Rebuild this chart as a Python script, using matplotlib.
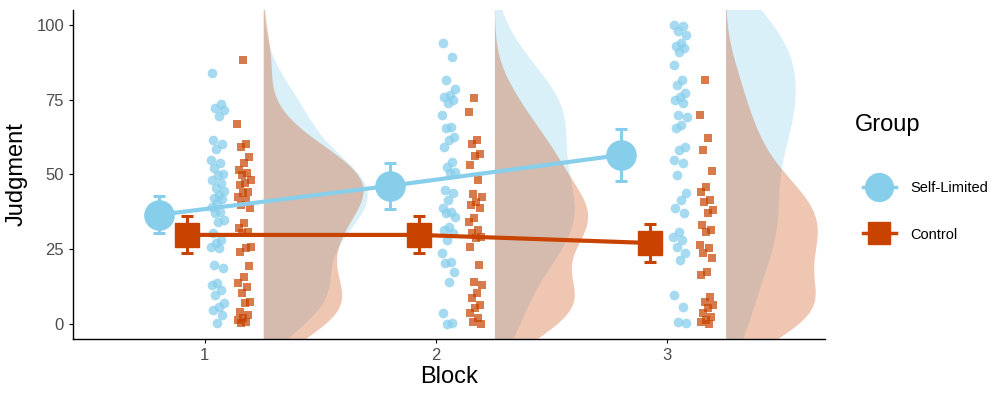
import numpy as np
import matplotlib.pyplot as plt
from matplotlib.lines import Line2D

plt.rcParams['font.family'] = ['Liberation Sans', 'DejaVu Sans']

blocks = [1, 2, 3]
groups = ['Self-Limited', 'Control']

# raw judgments, per block
self_limited = [
    [84.0, 73.6, 72.1, 71.6, 69.6, 61.5, 60.2, 58.5, 54.8, 53.7, 52.1, 50.2, 49.8, 48.2,
     47.3, 45.4, 44.6, 43.1, 42.0, 41.7, 40.4, 39.2, 37.6, 37.0, 34.8, 34.2, 30.3, 28.1,
     27.2, 25.9, 25.3, 19.7, 18.6, 13.6, 13.0, 11.4, 9.7, 6.9, 5.8, 4.7, 3.0, 0.2],
    [93.9, 89.4, 81.6, 78.5, 76.6, 75.8, 74.9, 73.8, 69.9, 66.0, 65.4, 62.6, 61.5, 59.3,
     54.3, 52.6, 50.9, 50.4, 44.8, 43.7, 41.5, 38.7, 37.6, 37.0, 35.9, 32.5, 31.4, 30.3,
     28.1, 23.6, 20.8, 20.3, 17.5, 14.1, 3.6, 0.2, 0.0],
    [100.0, 99.7, 97.8, 96.7, 93.9, 92.8, 92.2, 91.1, 86.6, 81.6, 79.9, 77.2, 76.0, 74.9,
     73.8, 69.9, 69.3, 66.6, 65.4, 59.3, 58.2, 54.8, 53.7, 49.8, 43.7, 41.5, 38.7, 37.0,
     30.9, 29.2, 28.1, 25.9, 23.6, 21.4, 9.7, 5.8, 0.8, 0.2],
]
control = [
    [88.1, 66.9, 60.2, 59.3, 56.0, 53.7, 51.5, 50.4, 49.8, 48.2, 47.3, 46.5, 44.2, 43.7,
     42.6, 41.5, 39.8, 38.7, 33.9, 32.0, 30.9, 30.3, 25.9, 25.3, 24.2, 19.5, 15.8, 13.6,
     12.5, 10.3, 7.5, 6.9, 4.1, 3.0, 1.9, 1.3, 0.8, 0.2],
    [75.5, 71.0, 61.5, 60.2, 56.9, 56.2, 53.2, 48.2, 43.5, 42.6, 40.9, 39.8, 38.7, 35.4,
     34.2, 31.4, 30.3, 29.2, 28.7, 25.9, 19.7, 14.1, 13.0, 10.3, 8.6, 6.4, 5.3, 3.6, 1.9,
     0.8, 0.0],
    [81.6, 69.9, 62.1, 58.2, 51.3, 45.9, 44.2, 41.5, 40.9, 38.1, 37.0, 33.1, 31.4, 30.9,
     26.4, 25.3, 23.6, 22.0, 17.5, 16.4, 9.1, 7.5, 6.4, 5.3, 3.6, 2.4, 1.3, 0.8, 0.0],
]

# group means with error bar limits
sl_mean = [36.5, 46.2, 56.5]
sl_low = [30.4, 38.5, 47.8]
sl_high = [42.8, 53.8, 65.2]
ct_mean = [29.8, 29.8, 27.1]
ct_low = [23.7, 23.7, 20.7]
ct_high = [36.0, 36.0, 33.4]

blue = '#87CEEB'
orange = '#C84300'


def kde(vals):
    v = np.asarray(vals)
    n = len(v)
    iqr = np.subtract(*np.percentile(v, [75, 25]))
    bw = 0.9 * min(v.std(ddof=1), iqr / 1.34) * n ** -0.2
    grid = np.linspace(v.min() - 3 * bw, v.max() + 3 * bw, 512)
    dens = np.exp(-0.5 * ((grid[:, None] - v[None, :]) / bw) ** 2).sum(axis=1)
    dens /= n * bw * np.sqrt(2 * np.pi)
    return grid, dens


def jitter(n, width, phase):
    return ((np.arange(n) * 0.618034 + phase) % 1 - 0.5) * 2 * width


fig = plt.figure(figsize=(9.95, 3.97), dpi=100)
ax = fig.add_axes([0.0734, 0.146, 0.756, 0.829])

dens_all = [[kde(d) for d in grp] for grp in (self_limited, control)]
gmax = max(dd.max() for grp in dens_all for _, dd in grp)

for gi, (grp, col) in enumerate(zip(dens_all, [blue, orange])):
    for b, (yy, dd) in zip(blocks, grp):
        x0 = b + 0.255
        ax.fill_betweenx(yy, x0, x0 + dd / gmax * 0.45, color=col, alpha=0.3,
                         linewidth=0, zorder=1)

for b, vals in zip(blocks, self_limited):
    ax.plot(b + 0.055 + jitter(len(vals), 0.03, 0.1), vals, 'o', color=blue,
            alpha=0.75, markersize=7, markeredgewidth=0, zorder=2)
for b, vals in zip(blocks, control):
    ax.plot(b + 0.17 + jitter(len(vals), 0.03, 0.4), vals, 's', color=orange,
            alpha=0.7, markersize=5.5, markeredgewidth=0, zorder=2)

xb = np.array(blocks, dtype=float)
ax.errorbar(xb - 0.2, sl_mean,
            yerr=[np.subtract(sl_mean, sl_low), np.subtract(sl_high, sl_mean)],
            color=blue, linewidth=3, elinewidth=2.2, capsize=4, capthick=2.2,
            marker='o', markersize=21, zorder=4)
ax.errorbar(xb - 0.075, ct_mean,
            yerr=[np.subtract(ct_mean, ct_low), np.subtract(ct_high, ct_mean)],
            color=orange, linewidth=3, elinewidth=2.2, capsize=4, capthick=2.2,
            marker='s', markersize=17, zorder=4)

ax.set_xlim(0.43, 3.684)
ax.set_ylim(-5, 105)
ax.set_xticks(blocks)
ax.set_yticks([0, 25, 50, 75, 100])
ax.tick_params(labelsize=12, labelcolor='#4D4D4D', length=3, width=0.8)
for s in ['top', 'right']:
    ax.spines[s].set_visible(False)
for s in ['left', 'bottom']:
    ax.spines[s].set_linewidth(1.0)
ax.set_xlabel('Block', fontsize=17, labelpad=2)
ax.set_ylabel('Judgment', fontsize=17, labelpad=6)

# legend: title as its own text, entries placed below
fig.text(0.859, 1 - 125 / 397, 'Group', fontsize=17, va='center', ha='left')
handles = [
    Line2D([0], [0], color=blue, marker='o', markersize=20, linewidth=2.5),
    Line2D([0], [0], color=orange, marker='s', markersize=16, linewidth=2.5),
]
fig.legend(handles, groups, loc='center left', bbox_to_anchor=(0.861, 1 - 211.5 / 397),
           frameon=False, fontsize=10.5, handlelength=2.3, labelspacing=2.2,
           handletextpad=1.0, borderaxespad=0)

fig.savefig('out.png', dpi=100)
